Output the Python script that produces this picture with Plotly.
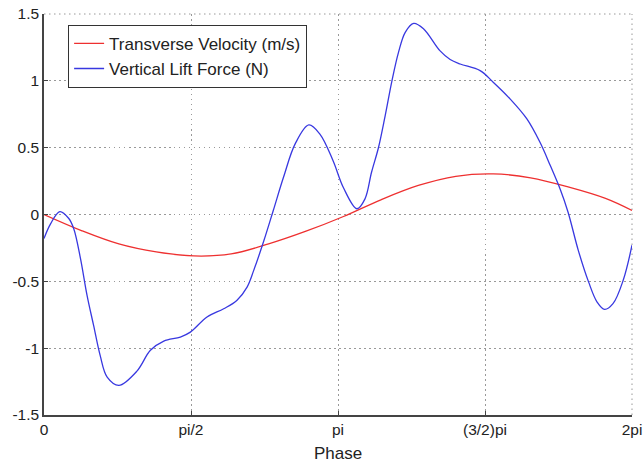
import math
import plotly.graph_objects as go

PI = math.pi

# Transverse velocity (m/s)
vel_x = [0, 0.4, 0.8, 1.2, 1.6, 2.0, 2.4, 2.8, 3.2, 3.6, 4.0, 4.4, 4.8, 5.2, 5.6, 6.0, 2 * PI]
vel_y = [0, -0.12, -0.22, -0.28, -0.31, -0.295, -0.22, -0.125, -0.015, 0.11, 0.217, 0.286, 0.304, 0.274, 0.206, 0.12, 0.03]

# Vertical lift force (N)
lift_x = [0, 0.07, 0.169, 0.265, 0.318, 0.39, 0.46, 0.53, 0.60, 0.675, 0.80, 0.995, 1.137, 1.28, 1.457,
          1.564, 1.742, 1.92, 2.06, 2.17, 2.24, 2.35, 2.45, 2.56, 2.685, 2.83, 2.95, 3.09, 3.20, 3.344,
          3.43, 3.50, 3.575, 3.646, 3.718, 3.788, 3.86, 3.95, 4.055, 4.23, 4.34, 4.447, 4.66, 4.80, 4.98,
          5.16, 5.30, 5.41, 5.515, 5.60, 5.71, 5.82, 5.91, 5.99, 6.08, 6.19, 2 * PI]
lift_y = [-0.18, -0.07, 0.022, -0.03, -0.107, -0.33, -0.605, -0.83, -1.054, -1.216, -1.278, -1.17, -1.016, -0.947, -0.917,
          -0.88, -0.767, -0.705, -0.643, -0.543, -0.42, -0.195, 0.03, 0.28, 0.53, 0.67, 0.60, 0.40, 0.20, 0.043,
          0.117, 0.316, 0.503, 0.74, 1.0, 1.213, 1.363, 1.43, 1.39, 1.226, 1.16, 1.126, 1.076, 0.99, 0.865,
          0.715, 0.54, 0.366, 0.19, 0.017, -0.27, -0.506, -0.655, -0.71, -0.667, -0.49, -0.23]

x_tickvals = [0, PI / 2, PI, 3 * PI / 2, 2 * PI]
x_ticktext = ["0", "pi/2", "pi", "(3/2)pi", "2pi"]
y_tickvals = [-1.5, -1, -0.5, 0, 0.5, 1, 1.5]
y_ticktext = ["-1.5", "-1", "-0.5", "0", "0.5", "1", "1.5"]

FONT = "Liberation Sans, Arial, sans-serif"
GRID = "#999999"
DOT = "1.5px,3.5px"

fig = go.Figure()
fig.add_trace(go.Scatter(x=vel_x, y=vel_y, mode="lines", name="Transverse Velocity (m/s)",
                         line=dict(color="#ee3030", width=1.3, shape="spline", smoothing=1.0)))
fig.add_trace(go.Scatter(x=lift_x, y=lift_y, mode="lines", name="Vertical Lift Force (N)",
                         line=dict(color="#3838e0", width=1.3, shape="spline", smoothing=1.0)))

axis_common = dict(showline=True, linecolor="#444444", linewidth=1.5, ticks="inside", ticklen=4,
                   tickcolor="#444444", showgrid=True, gridcolor=GRID, griddash=DOT,
                   gridwidth=1, zeroline=False, mirror=False, automargin=False,
                   tickfont=dict(family=FONT, size=15.5, color="#222222"))

fig.update_xaxes(range=[0, 2 * PI], tickvals=x_tickvals, ticktext=x_ticktext,
                 title=dict(text="Phase", font=dict(family=FONT, size=17, color="#222222"), standoff=10),
                 **axis_common)
fig.update_yaxes(range=[-1.5, 1.5], tickvals=y_tickvals, ticktext=y_ticktext, **axis_common)

# dotted frame on top and right (MATLAB grid at box edges)
fig.add_shape(type="line", xref="paper", yref="paper", x0=0, x1=1, y0=1, y1=1,
              line=dict(color=GRID, width=1, dash=DOT), layer="below")
fig.add_shape(type="line", xref="paper", yref="paper", x0=1, x1=1, y0=0, y1=1,
              line=dict(color=GRID, width=1, dash=DOT), layer="below")

fig.update_layout(
    width=643, height=467,
    margin=dict(l=44, r=11, t=14, b=52),
    paper_bgcolor="white", plot_bgcolor="white",
    legend=dict(x=0.041, y=0.973, xanchor="left", yanchor="top", bordercolor="#333333", borderwidth=1,
                bgcolor="white", font=dict(family=FONT, size=17, color="#222222"),
                tracegroupgap=0),
    showlegend=True,
)

fig.write_html("out.html")
